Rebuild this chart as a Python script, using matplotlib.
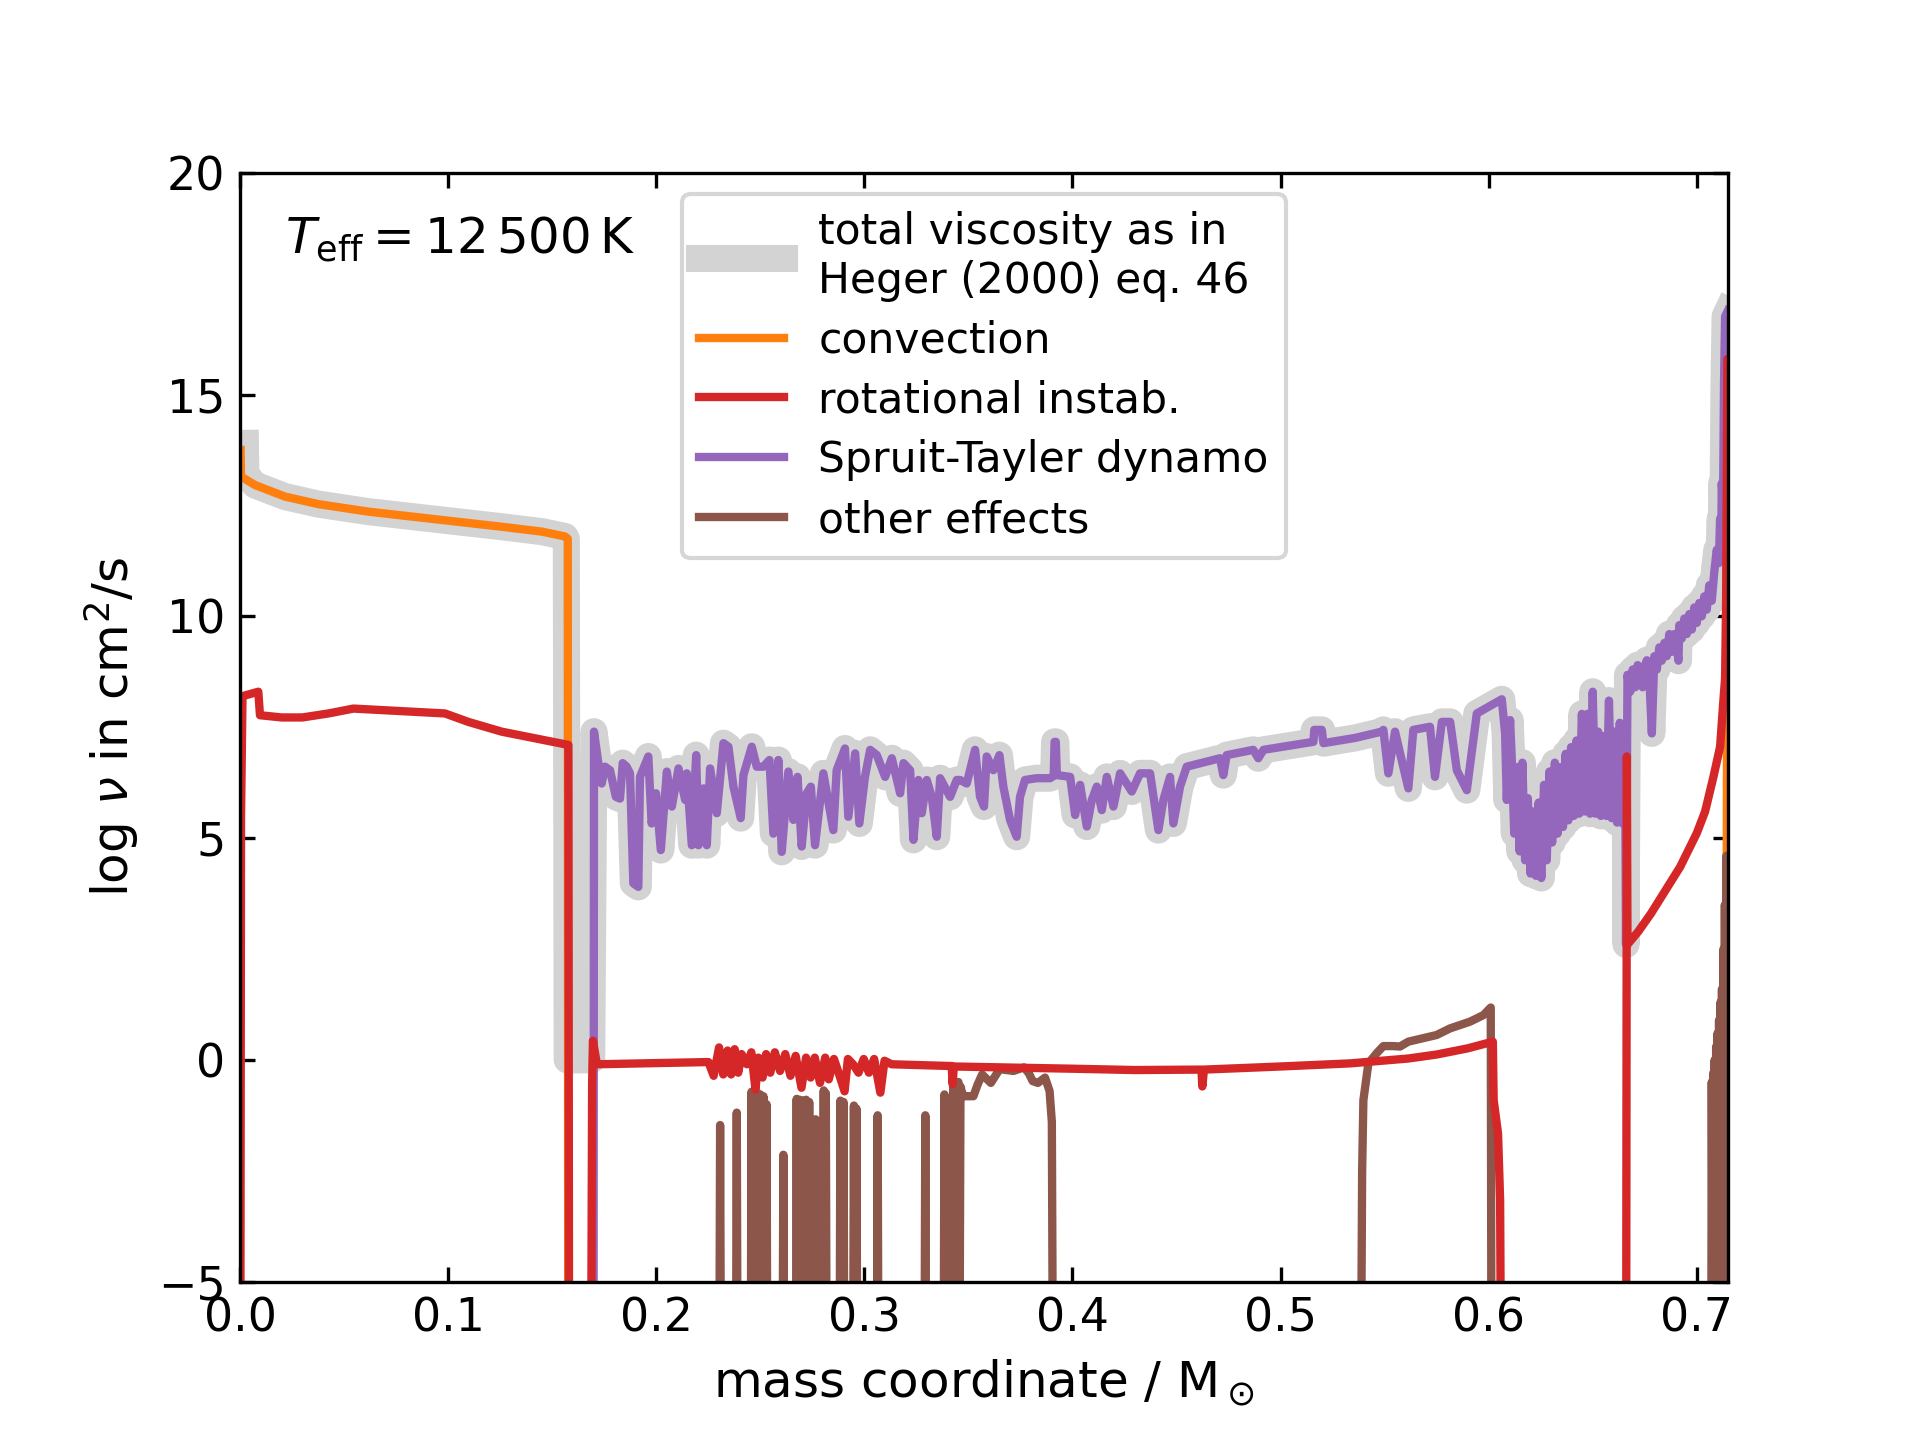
import numpy as np
import matplotlib
matplotlib.use("Agg")
import matplotlib.pyplot as plt

BASE = -6.0  # values below the plotted range

# convection
conv_x = [0.0003, 0.0005, 0.0072, 0.0216, 0.0376, 0.0617, 0.0937, 0.1257, 0.1450,
          0.1562, 0.1575, 0.1577, 0.7143, 0.7144, 0.7146, 0.7149, 0.7150]
conv_y = [13.75, 13.15, 12.96, 12.70, 12.53, 12.36, 12.19, 12.02, 11.91,
          11.80, 11.75, BASE, BASE, 4.6, 9.0, 14.0, 16.0]

# rotational instabilities
rot_x = [0.0002, 0.0005, 0.0012, 0.0088, 0.0096, 0.0200, 0.0300, 0.0425, 0.0545,
         0.0985, 0.1097, 0.1257, 0.1578, 0.1581, 0.1688, 0.1692, 0.1696, 0.1715,
         0.2251, 0.2276, 0.2302, 0.2322, 0.2343, 0.2360, 0.2377, 0.2394, 0.2410,
         0.2436, 0.2457, 0.2477, 0.2491, 0.2511, 0.2528, 0.2548, 0.2570, 0.2595,
         0.2620, 0.2645, 0.2670, 0.2698, 0.2720, 0.2742, 0.2762, 0.2787, 0.2812,
         0.2829, 0.2854, 0.2879, 0.2905, 0.2921, 0.2946, 0.2972, 0.2997, 0.3022,
         0.3047, 0.3077, 0.3097, 0.3131, 0.3420, 0.3424, 0.3430, 0.4000, 0.4300,
         0.4620, 0.4624, 0.4632, 0.5000, 0.5334, 0.5614, 0.5750, 0.5900, 0.6020,
         0.6024, 0.6045, 0.6055, 0.6058, 0.6661, 0.6664, 0.6667, 0.6720, 0.6780,
         0.6840, 0.6920, 0.7000, 0.7040, 0.7080, 0.7112, 0.7128, 0.7136, 0.7141,
         0.7144, 0.7147, 0.7150]
rot_y = [BASE, 5.5, 8.2, 8.3, 7.77, 7.72, 7.72, 7.81, 7.92,
         7.81, 7.62, 7.40, 7.10, BASE, BASE, -0.5, 0.43, -0.10,
         -0.05, -0.36, 0.28, -0.33, 0.21, -0.33, 0.24, -0.29, 0.13,
         -0.10, 0.17, -0.67, 0.05, -0.40, 0.13, -0.29, 0.17, -0.25,
         0.13, -0.36, 0.09, -0.63, 0.05, -0.40, 0.05, -0.52, 0.05,
         -0.44, 0.02, -0.33, -0.71, 0.02, -0.10, -0.29, 0.02, -0.29,
         0.02, -0.74, -0.02, -0.10, -0.14, -0.55, -0.15, -0.20, -0.23,
         -0.22, -0.60, -0.22, -0.15, -0.08, 0.03, 0.12, 0.26, 0.41,
         -0.91, -1.66, -3.16, BASE, BASE, 6.84, 2.60, 2.90, 3.30,
         3.75, 4.35, 5.11, 5.60, 6.38, 7.06, 8.11, 8.60, 10.4,
         13.0, 15.8, 15.8]

# Spruit-Tayler dynamo
st_x = [0.1699, 0.1701, 0.1722, 0.1738, 0.1754, 0.1778, 0.1806, 0.1826, 0.1839, 0.1858,
        0.1874, 0.1890, 0.1914, 0.1922, 0.1962, 0.1978, 0.1999, 0.2022, 0.2051, 0.2075,
        0.2107, 0.2139, 0.2147, 0.2171, 0.2192, 0.2203, 0.2227, 0.2243, 0.2259, 0.2291,
        0.2323, 0.2347, 0.2371, 0.2406, 0.2419, 0.2459, 0.2483, 0.2515, 0.2544, 0.2563,
        0.2587, 0.2603, 0.2635, 0.2659, 0.2679, 0.2699, 0.2723, 0.2743, 0.2763, 0.2803,
        0.2851, 0.2867, 0.2907, 0.2923, 0.2956, 0.2976, 0.3003, 0.3028, 0.3060, 0.3100,
        0.3132, 0.3172, 0.3188, 0.3220, 0.3236, 0.3260, 0.3276, 0.3300, 0.3324, 0.3348,
        0.3364, 0.3412, 0.3444, 0.3460, 0.3492, 0.3532, 0.3556, 0.3575, 0.3588, 0.3620,
        0.3649, 0.3668, 0.3700, 0.3732, 0.3748, 0.3772, 0.3828, 0.3892, 0.3910, 0.3914,
        0.3920, 0.3925, 0.3989, 0.4013, 0.4037, 0.4069, 0.4093, 0.4117, 0.4141, 0.4165,
        0.4197, 0.4229, 0.4285, 0.4325, 0.4373, 0.4413, 0.4437, 0.4469, 0.4485, 0.4517,
        0.4549, 0.4709, 0.4725, 0.4741, 0.4869, 0.4893, 0.4918, 0.5158, 0.5162, 0.5198,
        0.5206, 0.5360, 0.5486, 0.5494, 0.5518, 0.5550, 0.5614, 0.5638, 0.5718, 0.5742,
        0.5775, 0.5815, 0.5847, 0.5895, 0.5943, 0.6063, 0.6079, 0.6087, 0.6103, 0.6110,
        0.6123, 0.6136, 0.6149, 0.6162, 0.6175, 0.6188, 0.6201, 0.6214, 0.6227, 0.6240,
        0.6253, 0.6266, 0.6279, 0.6292, 0.6305, 0.6318, 0.6331, 0.6344, 0.6357, 0.6370,
        0.6383, 0.6396, 0.6409, 0.6422, 0.6435, 0.6448, 0.6461, 0.6474, 0.6487, 0.6500,
        0.6513, 0.6526, 0.6539, 0.6552, 0.6565, 0.6578, 0.6591, 0.6604, 0.6617, 0.6630,
        0.6643, 0.6652, 0.6657, 0.6660, 0.6667, 0.6680, 0.6692, 0.6704, 0.6716, 0.6728,
        0.6740, 0.6752, 0.6760, 0.6772, 0.6784, 0.6796, 0.6808, 0.6820, 0.6832, 0.6844,
        0.6856, 0.6868, 0.6880, 0.6892, 0.6904, 0.6912, 0.6916, 0.6928, 0.6940, 0.6952,
        0.6964, 0.6976, 0.6988, 0.7000, 0.7012, 0.7024, 0.7036, 0.7048, 0.7060, 0.7072,
        0.7084, 0.7096, 0.7106, 0.7112, 0.7118, 0.7120, 0.7126, 0.7131, 0.7136, 0.7150]
st_y = [BASE, 7.40, 6.69, 6.23, 6.61, 6.53, 5.93, 5.89, 6.69, 6.61,
        6.46, 3.98, 3.90, 6.38, 6.84, 5.33, 6.01, 4.73, 6.50, 5.71,
        6.57, 5.86, 6.46, 4.84, 6.87, 4.84, 6.12, 4.84, 6.57, 5.56,
        7.14, 7.06, 6.16, 5.45, 6.42, 7.06, 6.61, 6.61, 6.76, 5.10,
        6.76, 4.69, 6.50, 5.41, 6.38, 4.81, 6.01, 6.16, 4.84, 6.46,
        5.18, 6.53, 7.02, 5.48, 6.91, 5.33, 6.38, 6.99, 6.87, 6.38,
        6.80, 6.01, 6.69, 6.53, 4.96, 6.31, 5.56, 6.31, 5.93, 5.03,
        6.35, 5.93, 6.31, 6.31, 6.23, 6.99, 5.93, 5.71, 6.84, 6.53,
        6.87, 6.16, 5.41, 5.03, 5.93, 6.31, 6.35, 6.35, 6.40, 7.17,
        7.17, 6.42, 6.38, 5.52, 6.20, 5.26, 5.86, 6.16, 5.63, 6.38,
        5.71, 6.46, 6.05, 6.46, 6.46, 5.18, 5.86, 6.38, 5.33, 6.16,
        6.61, 6.80, 6.42, 6.87, 6.99, 6.80, 6.99, 7.17, 7.44, 7.44,
        7.14, 7.26, 7.40, 7.44, 6.46, 7.40, 6.12, 7.44, 7.51, 6.38,
        7.62, 7.62, 6.53, 6.08, 7.81, 8.13, 7.36, 5.86, 7.66, 6.90,
        5.10, 6.60, 4.70, 6.70, 4.50, 5.90, 4.20, 5.60, 4.15, 5.80,
        4.10, 6.20, 4.50, 6.50, 4.90, 6.70, 5.10, 6.60, 5.25, 6.90,
        5.40, 7.05, 5.50, 7.20, 5.55, 7.80, 5.60, 7.80, 5.55, 8.30,
        5.55, 7.40, 5.50, 7.30, 5.50, 8.10, 5.45, 7.40, 5.35, 7.60,
        5.33, 7.30, 5.33, 2.60, 8.68, 8.30, 8.80, 8.40, 8.90, 8.50,
        8.40, 8.90, 9.01, 8.60, 7.36, 9.10, 8.80, 9.30, 9.00, 9.40,
        9.10, 9.60, 9.20, 9.60, 9.30, 9.00, 9.80, 9.50, 9.95, 9.60,
        10.05, 9.70, 10.20, 9.85, 10.30, 10.00, 10.45, 10.15, 10.70, 10.35,
        11.00, 11.50, 11.20, 12.20, 11.90, 13.00, 12.50, 15.30, 16.76, 16.90]

# other effects: narrow spikes, a hump, a ramp and the surface region
other_spike_x = [0.2307, 0.2387, 0.2458, 0.2470, 0.2485, 0.2500, 0.2515, 0.2530, 0.2611,
                 0.2675, 0.2690, 0.2705, 0.2720, 0.2735, 0.2766, 0.2805, 0.2815, 0.2885,
                 0.2900, 0.2950, 0.2962, 0.3064, 0.3293, 0.3385, 0.3395, 0.3429]
other_spike_top = [-1.47, -1.19, -0.72, -0.70, -0.75, -0.78, -0.82, -1.00, -2.14,
                   -0.88, -0.90, -0.92, -0.90, -0.95, -1.34, -0.69, -0.75, -0.92,
                   -0.95, -1.03, -1.10, -1.25, -1.25, -0.78, -0.85, -0.45]
other_hump_x = [0.3440, 0.3445, 0.3452, 0.3458, 0.3462, 0.3470, 0.3482, 0.3524, 0.3545,
                0.3566, 0.3608, 0.3650, 0.3717, 0.3767, 0.3790, 0.3809, 0.3834, 0.3868,
                0.3890, 0.3901, 0.3905]
other_hump_y = [BASE, -0.60, -0.50, BASE, -0.60, -0.75, -0.82, -0.82, -0.55,
                -0.33, -0.52, -0.21, -0.25, -0.17, -0.30, -0.48, -0.52, -0.40,
                -0.70, -1.40, BASE]
other_ramp_x = [0.5388, 0.5392, 0.5398, 0.5422, 0.5462, 0.5494, 0.5540, 0.5574, 0.5614,
                0.5750, 0.5815, 0.5910, 0.5975, 0.6010, 0.6013]
other_ramp_y = [BASE, -2.5, -0.91, -0.08, 0.15, 0.31, 0.31, 0.30, 0.41,
                0.56, 0.71, 0.86, 1.01, 1.18, BASE]
other_edge_x = [0.7070, 0.7072, 0.7076, 0.7079, 0.7083, 0.7086, 0.7090, 0.7093, 0.7097,
                0.7100, 0.7104, 0.7107, 0.7111, 0.7114, 0.7118, 0.7121, 0.7125, 0.7128,
                0.7132, 0.7135, 0.7139, 0.7142, 0.7145]
other_edge_y = [BASE, -0.5, BASE, -0.3, BASE, 0.0, BASE, 0.3, BASE,
                0.6, BASE, 0.9, BASE, 1.3, BASE, 1.6, BASE, 2.5,
                BASE, 3.5, BASE, 4.6, BASE]

# total viscosity: convective core part, then follows the dynamo curve
total_core_x = [0.0026, 0.0028, 0.0072, 0.0216, 0.0376, 0.0617, 0.0937, 0.1257, 0.1450,
                0.1562, 0.1568, 0.1572, 0.1690]
total_core_y = [13.9, 13.2, 12.96, 12.70, 12.53, 12.36, 12.19, 12.02, 11.91,
                11.80, 11.75, 0.0, 0.0]

other_x, other_y = [0.0], [BASE]
for xs, top in zip(other_spike_x, other_spike_top):
    other_x += [xs - 0.0003, xs, xs + 0.0003]
    other_y += [BASE, top, BASE]
other_x += other_hump_x + other_ramp_x + other_edge_x
other_y += other_hump_y + other_ramp_y + other_edge_y

total_x = total_core_x + st_x[1:]
total_y = total_core_y + st_y[1:]

fig, ax = plt.subplots(figsize=(6.4, 4.8), dpi=300)

h_tot, = ax.plot(total_x, total_y, color='lightgray', lw=6.5,
                 label='total viscosity as in\nHeger (2000) eq. 46')
h_conv, = ax.plot(conv_x, conv_y, color='tab:orange', lw=2, label='convection')
h_st, = ax.plot(st_x, st_y, color='tab:purple', lw=2, label='Spruit-Tayler dynamo')
h_oth, = ax.plot(other_x, other_y, color='tab:brown', lw=2, label='other effects')
h_rot, = ax.plot(rot_x, rot_y, color='tab:red', lw=2, label='rotational instab.')

ax.set_xlim(0, 0.715)
ax.set_ylim(-5, 20)
ax.set_xticks(np.arange(0, 0.71, 0.1))
ax.set_yticks([-5, 0, 5, 10, 15, 20])
ax.tick_params(direction='in', top=True, right=True, labelsize=11)

ax.set_xlabel(r'mass coordinate / $\mathrm{M}_\odot$', fontsize=12)
ax.set_ylabel(r'log $\nu$ in cm$^2$/s', fontsize=12)

ax.text(0.03, 0.94, r'$T_\mathrm{eff} = 12\,500\,\mathrm{K}$', transform=ax.transAxes,
        fontsize=12, va='center')

ax.legend(handles=[h_tot, h_conv, h_rot, h_st, h_oth], loc='upper center',
          fontsize=10.2, labelspacing=0.42)

fig.savefig('out.png', dpi=300)
